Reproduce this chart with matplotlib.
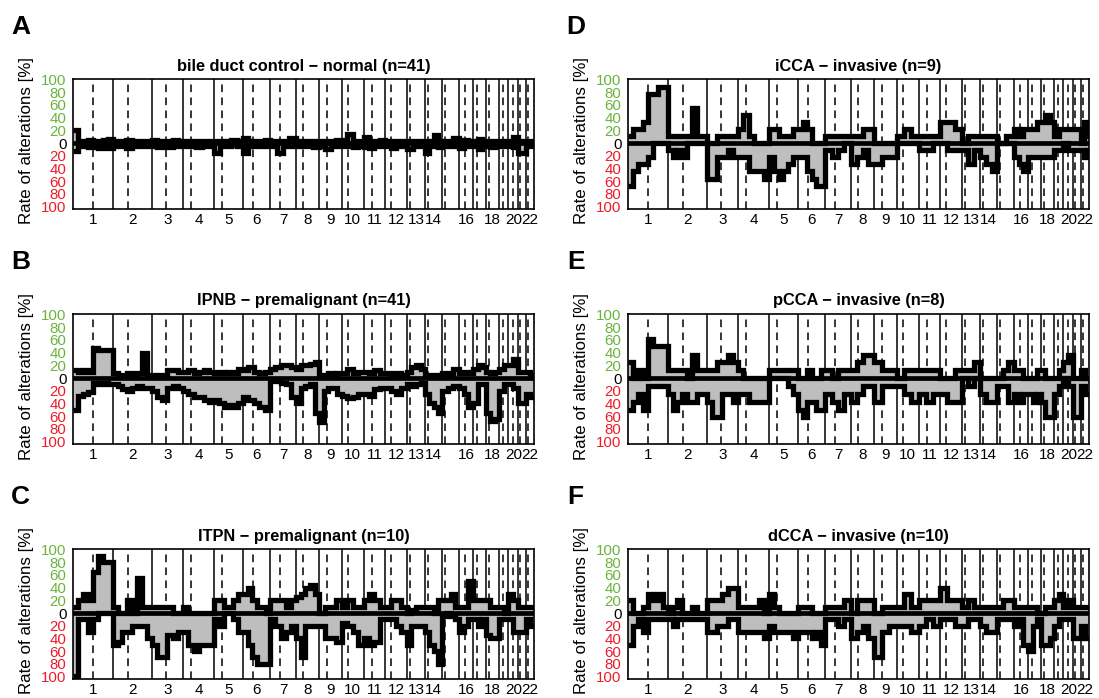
import numpy as np
import matplotlib
matplotlib.use('Agg')
import matplotlib.pyplot as plt

plt.rcParams['font.family'] = ['Liberation Sans', 'DejaVu Sans']

# ---------------- genome layout (hg19, Mb) ----------------
chrom_len = [249.25, 243.2, 198.0, 191.15, 180.9, 171.1, 159.1, 146.4, 141.2, 135.5, 135.0,
             133.85, 115.2, 107.35, 102.5, 90.35, 81.2, 78.1, 59.1, 63.0, 48.1, 51.3]
centromere = [125.0, 93.3, 91.0, 50.4, 48.4, 61.0, 59.9, 45.6, 49.0, 40.2, 53.7,
              35.8, 17.9, 17.6, 19.0, 36.6, 24.0, 17.2, 26.5, 27.5, 13.2, 14.7]
chrom_labels = ['1', '2', '3', '4', '5', '6', '7', '8', '9', '10', '11', '12', '13', '14',
                '', '16', '', '18', '', '20', '', '22']

y_ticks = [100, 80, 60, 40, 20, 0, -20, -40, -60, -80, -100]
y_labels = ['100', '80', '60', '40', '20', '0', '20', '40', '60', '80', '100']

panel_letters = ['A', 'B', 'C', 'D', 'E', 'F']
panel_titles = ['bile duct control \u2212 normal (n=41)',
                'IPNB \u2212 premalignant (n=41)',
                'ITPN \u2212 premalignant (n=10)',
                'iCCA \u2212 invasive (n=9)',
                'pCCA \u2212 invasive (n=8)',
                'dCCA \u2212 invasive (n=10)']

# ---------------- alteration rates [%], per chromosome segments ----------------
ctrl_gain = [[20, 4, 3, 5, 4, 3, 5, 6], [4, 3, 5, 3, 4, 3], [5, 3, 4, 3, 5, 4], [3, 4, 3, 4, 3],
             [3, 4, 3, 5, 4], [8, 4, 3, 4, 5], [4, 3, 4, 8], [3, 4, 3, 4], [3, 4, 3, 5],
             [4, 15, 4, 3], [10, 4, 3, 5], [4, 3, 4, 3], [3, 4, 3], [3, 4, 12, 4], [3, 4, 8],
             [4, 5, 3], [3, 6, 3], [4, 3, 4], [3, 4], [4, 10], [3], [4, 3]]
ctrl_loss = [[-12, -5, -4, -6, -4, -8, -5, -8], [-4, -5, -8, -4, -5, -4], [-4, -7, -4, -7, -4, -5],
             [-5, -4, -6, -4, -5], [-15, -4, -5, -3, -4], [-15, -5, -4, -5, -4], [-4, -15, -5, -4],
             [-4, -5, -4, -6], [-4, -10, -4, -5], [-4, -5, -6, -4], [-6, -8, -4, -5], [-4, -8, -5, -4],
             [-10, -4, -5], [-15, -5, -4, -6], [-4, -5, -4], [-8, -4, -5], [-5, -10, -4], [-4, -6, -4],
             [-5, -4], [-4, -6], [-15], [-5, -4]]

ipnb_gain = [[12, 10, 12, 10, 48, 45, 45, 45], [8, 5, 5, 8, 5, 8, 40, 5], [5, 5, 5, 12, 12, 10],
             [10, 12, 8, 10, 12, 10], [8, 10, 8, 10, 8, 15], [12, 18, 10, 8, 10], [15, 18, 20, 20, 18],
             [15, 20, 20, 22, 25], [5, 5, 8, 5, 8], [8, 15, 8, 10], [10, 8, 12, 8], [8, 5, 8, 5],
             [10, 18, 20, 15], [5, 5, 5, 5], [8, 5, 15], [8, 10, 8], [15, 20, 18], [10, 8, 10],
             [15, 20], [20, 30], [10], [10, 5]]
ipnb_loss = [[-50, -28, -25, -22, -8, -10, -8, -10], [-10, -12, -18, -20, -15, -12, -15, -15],
             [-20, -30, -35, -15, -12, -15], [-20, -25, -30, -30, -35, -38], [-35, -40, -45, -42, -45, -40],
             [-30, -35, -40, -45, -50], [-5, -5, -8, -10, -30], [-40, -15, -12, -10, -55],
             [-70, -20, -15, -15, -25], [-28, -32, -30, -25], [-25, -28, -18, -15], [-15, -20, -25, -15],
             [-10, -12, -10, -8], [-25, -40, -45, -55], [-20, -15, -12], [-15, -25, -45], [-40, -10, -10],
             [-55, -68, -65], [-20, -10], [-10, -15], [-40], [-25, -30]]

itpn_gain = [[10, 20, 30, 20, 65, 90, 80, 80], [10, 0, 0, 20, 0, 55, 10, 10], [10, 10, 10, 10, 0, 0],
             [10, 0, 0, 0, 0, 0], [20, 20, 10, 10, 20, 30], [30, 40, 20, 10, 10, 0], [20, 20, 20, 10, 20],
             [25, 30, 40, 45, 30], [0, 10, 10, 20], [10, 20, 10, 10], [20, 30, 20, 10], [10, 20, 20, 10],
             [0, 5, 10, 10], [10, 10, 0, 20], [20, 20, 30, 10], [10, 10, 50], [20, 20, 20], [20, 10, 10],
             [10, 0], [30, 20], [10], [10, 10]]
itpn_loss = [[-100, -10, -10, -30, -10, 0, 0, 0], [-50, -45, -30, -30, -20, -20, -20, -40],
             [-50, -70, -70, -35, -40, -30], [-30, -50, -60, -50, -50, -50], [-10, -20, 0, 0, -10, -30],
             [-30, -50, -70, -80, -80, -80], [-10, -20, -40, -30, -20], [-40, -70, -20, -20, -20],
             [-20, -40, -40, -45], [-15, -20, -30, -50], [-40, -50, -45, -10], [-10, -10, -20, -30],
             [-50, -20, -20, -20], [-30, -50, -60, -80], [-5, 0, -5, -10], [-30, -20, -10], [-10, -20, -10],
             [-35, -40, -40], [-10, -10], [-10, -30], [-30], [-10, -20]]

icca_gain = [[11, 22, 22, 33, 78, 78, 89, 89], [11, 11, 11, 11, 11, 56, 11, 11], [0, 0, 11, 11, 11, 11],
             [22, 44, 11, 0, 0, 0], [22, 22, 11, 11, 11, 22], [22, 33, 22, 0, 0, 0], [11, 11, 11, 11],
             [11, 11, 22, 22], [0, 0, 0], [11, 22, 11], [11, 11, 11], [33, 33, 22], [0, 11, 11],
             [11, 11, 11], [0, 11], [22, 11, 22], [22, 22, 33], [33, 44, 33], [11, 22], [22, 22], [22],
             [0, 33, 11]]
icca_loss = [[-67, -44, -33, -33, -22, 0, 0, 0], [-11, -22, -11, -22, 0, 0, 0, 0],
             [-56, -56, -22, -22, -11, -22], [-22, -22, -44, -44, -44, -56], [-22, -44, -56, -44, -33, -22],
             [-22, -22, -44, -56, -67, -67], [-11, -22, -11, 0], [-33, -22, -11, -33], [-33, -22, -22],
             [0, 0, 0], [-11, -11, 0], [0, -11, -11], [-11, -33, -11], [-22, -33, -44], [0, 0],
             [-22, -33, -44], [-22, -22, -22], [-22, -22, -22], [-11, -11], [0, -11], [-11], [-11, -22, -11]]

pcca_gain = [[25, 0, 12, 0, 62, 50, 50, 50], [12, 12, 12, 12, 0, 37, 12, 12], [12, 12, 25, 25, 37, 25],
             [12, 0, 0, 0, 0, 0], [12, 12, 12, 12, 12, 12], [0, 0, 12, 0, 0, 12], [12, 0, 12, 12],
             [12, 25, 37, 37], [25, 12, 12], [0, 12, 12], [12, 12, 12], [0, 0, 12], [12, 12, 25],
             [0, 0, 0], [0, 12, 25], [12, 12, 0], [0, 0, 12], [12, 0, 0], [0, 12], [25, 37], [0], [12, 0]]
pcca_loss = [[-50, -37, -25, -50, -12, -12, -12, -12], [-25, -50, -37, -25, -37, -37, -25, -25],
             [-37, -62, -62, -25, -25, -37], [-25, -25, -37, -37, -37, -37], [0, 0, 0, 0, -12, -25],
             [-50, -62, -37, -37, -50, -50], [-25, -37, -50, -25], [-37, -25, -12, -12], [-37, -12, -12],
             [-12, -25, -37], [-25, -37, -25], [-25, -37, -37], [0, -12, 0], [-25, -37, -37],
             [-12, -12, -37], [-25, -37, -25], [-25, -37, -25], [-37, -62, -62], [-25, -12], [0, -12],
             [-62], [-12, -25]]

dcca_gain = [[20, 0, 0, 10, 30, 20, 30, 10], [0, 10, 20, 0, 0, 10, 0, 0], [20, 20, 20, 30, 40, 40],
             [10, 10, 10, 10, 20, 0], [30, 10, 0, 0, 0, 0], [10, 10, 10, 0, 0, 0], [10, 10, 10, 20],
             [0, 20, 20, 20], [0, 10, 10], [10, 30, 10], [20, 20, 20], [40, 20, 20], [10, 20, 10],
             [10, 10, 10], [10, 20, 20], [10, 10, 10], [10, 10, 0], [0, 10, 10], [20, 30], [10, 20], [10],
             [10, 10]]
dcca_loss = [[-50, -20, -10, -30, -10, -10, -10, -10], [-10, -20, -10, -10, -10, -10, -10, -10],
             [-30, -30, -20, -20, -10, -10], [-30, -30, -30, -30, -30, -40], [-20, -30, -30, -30, -30, -40],
             [-30, -30, -30, -40, -30, -50], [-10, -10, -20, -10], [-40, -30, -20, -40], [-70, -30, -20],
             [-20, -20, -30], [-20, -10, -20], [-10, -10, -20], [-20, -10, -10], [-20, -30, -30],
             [-10, -10, -10], [-20, -10, -50], [-60, -20, -10], [-50, -50, -40], [-20, -10], [-10, -10],
             [-40], [-20, -40]]

gains = [ctrl_gain, ipnb_gain, itpn_gain, icca_gain, pcca_gain, dcca_gain]
losses = [ctrl_loss, ipnb_loss, itpn_loss, icca_loss, pcca_loss, dcca_loss]

GREEN = '#6ab43c'
RED = '#ec1c2a'
GREY = '#bebebe'

chrom_start = np.concatenate([[0.0], np.cumsum(chrom_len)[:-1]])
genome_len = float(np.sum(chrom_len))


def profile(segs):
    edges = [0.0]
    vals = []
    for i, v in enumerate(segs):
        k = len(v)
        edges.extend(chrom_start[i] + chrom_len[i] * np.arange(1, k + 1) / k)
        vals.extend(v)
    return np.array(vals, dtype=float), np.array(edges)


W, H = 1099, 698
fig = plt.figure(figsize=(W / 100, H / 100), dpi=100)

col_left = [72.7, 627.7]
row_top = [79, 314, 549]
ax_w, ax_h = 461.6, 130

for p in range(6):
    col, row = divmod(p, 3)
    left, top = col_left[col], row_top[row]
    ax = fig.add_axes([left / W, 1 - (top + ax_h) / H, ax_w / W, ax_h / H])

    # chromosome boundaries and centromeres
    for i in range(1, 22):
        ax.axvline(chrom_start[i], color='black', lw=1.1, zorder=1)
    for i in range(22):
        ax.axvline(chrom_start[i] + centromere[i], color='black', lw=1.1,
                   linestyle=(0, (5, 3.5)), zorder=1)

    gv, ge = profile(gains[p])
    lv, le = profile(losses[p])
    ax.stairs(gv, ge, baseline=0, fill=True, facecolor=GREY, edgecolor='none', zorder=2)
    ax.stairs(lv, le, baseline=0, fill=True, facecolor=GREY, edgecolor='none', zorder=2)
    ax.axhline(0, color='black', lw=3.4, zorder=3)
    ax.stairs(gv, ge, baseline=None, color='black', lw=3.8, zorder=4)
    ax.stairs(lv, le, baseline=None, color='black', lw=3.8, zorder=4)

    ax.set_xlim(0, genome_len)
    ax.set_ylim(-104, 101)

    ax.set_yticks(y_ticks)
    ax.set_yticklabels(y_labels)
    for t, val in zip(ax.get_yticklabels(), y_ticks):
        t.set_color(GREEN if val > 0 else (RED if val < 0 else 'black'))
    ax.tick_params(axis='y', length=0, pad=4.5, labelsize=10.8)

    ax.set_xticks(chrom_start + np.array(chrom_len) / 2)
    ax.set_xticklabels(chrom_labels)
    ax.tick_params(axis='x', length=0, pad=3, labelsize=11)

    for s in ax.spines.values():
        s.set_linewidth(1.2)

    ax.text(0.5, 1 + 13 / ax_h, panel_titles[p], transform=ax.transAxes,
            ha='center', va='center', fontsize=11.8, fontweight='bold')

    fig.text((left - 46) / W, 1 - (top + 62) / H, 'Rate of alterations [%]', rotation=90,
             ha='center', va='center', fontsize=12.2)
    fig.text((left - 52) / W, 1 - (top - 52) / H, panel_letters[p], ha='center', va='center',
             fontsize=19, fontweight='bold')

fig.savefig('out.png', dpi=100)
